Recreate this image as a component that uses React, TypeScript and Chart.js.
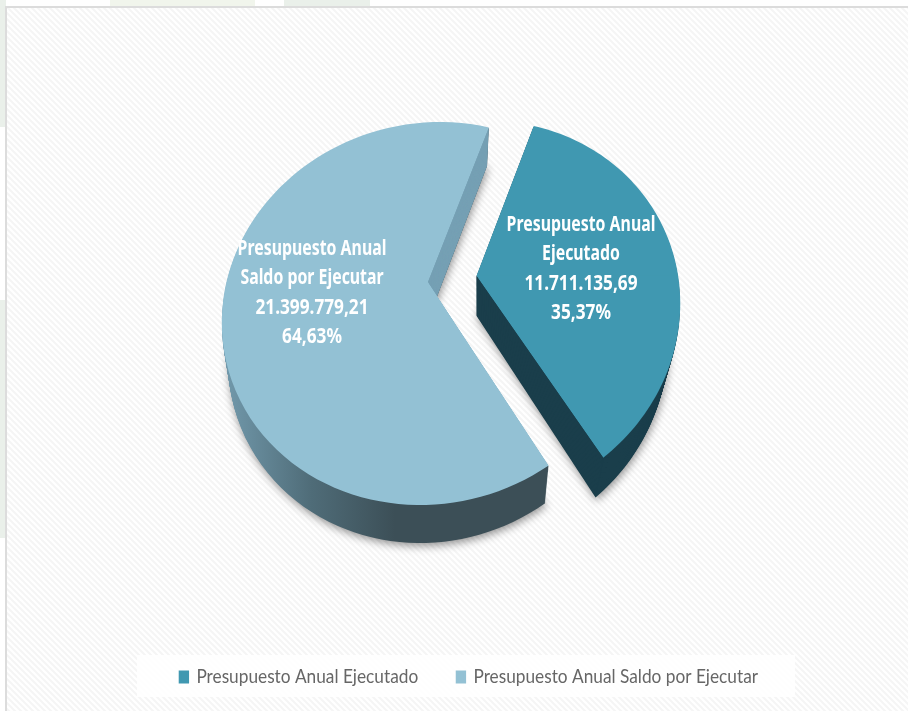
import React, { useEffect, useRef } from "react";
import { Chart, registerables } from "chart.js";

Chart.register(...registerables);

const categories = ["Presupuesto Anual Ejecutado", "Presupuesto Anual Saldo por Ejecutar"];
const values = [11711135.69, 21399779.21];
const percentLabels = ["35,37%", "64,63%"];
const labelLines = [
  ["Presupuesto Anual", "Ejecutado"],
  ["Presupuesto Anual", "Saldo por Ejecutar"],
];
const sliceColors = ["#4098B1", "#93C1D4"];

const RADIUS = 205;
const START = 17;
const APEX = { x: 428, y: 282 };
const EXPLODE = [49, 0];
// perspective of each slice: vertical squash above / below its apex, outline ellipse, wall
const SY_UP = [0.8, 0.775];
const SY_DOWN = [1.03, 1.09];
const OUTLINE = [
  { cx: 478, cy: 313, a: 202, b: 192 },
  { cx: 430, cy: 313.5, a: 208, b: 191.5 },
];
const SHEAR = -0.052;
const DEPTH = [40, 38];
const TAPER = [0.06, 0.03];
const LABEL_POS = [
  { x: 581, y: 225 },
  { x: 312, y: 249 },
];
const LINE_H = 29.4;
const SQUEEZE = 0.755;
const NUMBER_SQUEEZE = 0.82;
const LEGEND_SQUEEZE = 0.863;
const LEGEND_CENTER = { x: 469, y: 677 };

function fmt(v: number) {
  return v.toLocaleString("es-ES", { minimumFractionDigits: 2, maximumFractionDigits: 2 });
}

function apexOf(arc: any, i: number) {
  const mid = (arc.startAngle + arc.endAngle) / 2;
  const s = Math.sin(mid);
  return {
    x: APEX.x + EXPLODE[i] * Math.cos(mid),
    y: APEX.y + EXPLODE[i] * s * (s < 0 ? SY_UP[i] : SY_DOWN[i]),
  };
}

// Outline of one slice in page pixels: a ray from the apex for each angle of the arc, cut by the ellipse.
function slicePath(ctx: CanvasRenderingContext2D, arc: any, i: number, k: number) {
  const ap = apexOf(arc, i);
  const o = OUTLINE[i];
  const t = (TAPER[i] * k) / DEPTH[i];
  const a = o.a * (1 - t);
  const b = o.b;
  const ax = o.cx + (ap.x - o.cx) * (1 - t);
  const ay = ap.y + k;
  const cy = o.cy + k;
  ctx.beginPath();
  ctx.moveTo(ax, ay);
  const n = 90;
  for (let j = 0; j <= n; j++) {
    const th = arc.startAngle + ((arc.endAngle - arc.startAngle) * j) / n;
    const sn = Math.sin(th);
    const dx = Math.cos(th) * (1 - t);
    const dy = sn * (sn < 0 ? SY_UP[i] : SY_DOWN[i]);
    const u0 = ax - o.cx - SHEAR * (ay - cy);
    const v0 = ay - cy;
    const du = dx - SHEAR * dy;
    const A = (du * du) / (a * a) + (dy * dy) / (b * b);
    const B = (2 * u0 * du) / (a * a) + (2 * v0 * dy) / (b * b);
    const C = (u0 * u0) / (a * a) + (v0 * v0) / (b * b) - 1;
    const r = (-B + Math.sqrt(Math.max(B * B - 4 * A * C, 0))) / (2 * A);
    ctx.lineTo(ax + r * dx, ay + r * dy);
  }
  ctx.closePath();
}

function drawTopFace(ctx: CanvasRenderingContext2D, chart: any, arc: any, i: number) {
  const ap = apexOf(arc, i);
  const grow = 1.5;
  for (const part of [0, 1]) {
    const sy = (part === 0 ? SY_UP[i] : SY_DOWN[i]) * grow;
    ctx.save();
    slicePath(ctx, arc, i, 0);
    ctx.clip();
    ctx.beginPath();
    if (part === 0) ctx.rect(0, 0, chart.width, ap.y + 0.5);
    else ctx.rect(0, ap.y, chart.width, chart.height - ap.y);
    ctx.clip();
    ctx.setTransform(grow, 0, 0, sy, ap.x - arc.x * grow, ap.y - arc.y * sy);
    arc.draw(ctx);
    ctx.restore();
  }
}

const background = {
  id: "background",
  beforeDraw(chart: any) {
    const ctx: CanvasRenderingContext2D = chart.ctx;
    ctx.save();
    ctx.fillStyle = "#ffffff";
    ctx.fillRect(0, 0, chart.width, chart.height);
    ctx.fillStyle = "#F1F5EC";
    ctx.fillRect(110, 0, 145, 6);
    ctx.fillStyle = "#EAF0EA";
    ctx.fillRect(284, 0, 86, 6);
    ctx.fillRect(0, 0, 6, 127);
    ctx.fillRect(0, 300, 6, 238);

    const tile = document.createElement("canvas");
    tile.width = 6;
    tile.height = 6;
    const t = tile.getContext("2d")!;
    t.fillStyle = "#ffffff";
    t.fillRect(0, 0, 6, 6);
    t.strokeStyle = "#F5F5F5";
    t.lineWidth = 2;
    t.beginPath();
    t.moveTo(-1, -1);
    t.lineTo(7, 7);
    t.moveTo(-4, 2);
    t.lineTo(4, 10);
    t.moveTo(2, -4);
    t.lineTo(10, 4);
    t.stroke();
    ctx.fillStyle = ctx.createPattern(tile, "repeat")!;
    ctx.fillRect(7, 8, chart.width - 7, chart.height - 8);

    ctx.fillStyle = "#DCDCDC";
    ctx.fillRect(5, 6, chart.width - 5, 2);
    ctx.fillRect(5, 6, 2, chart.height - 6);

    ctx.fillStyle = "rgba(255,255,255,0.9)";
    ctx.fillRect(137, 655, 658, 42);
    ctx.restore();
  },
  afterLayout(chart: any) {
    const legend = chart.legend;
    if (!legend || legend.__wrapped) return;
    legend.__wrapped = true;
    const original = legend.draw;
    legend.draw = function (...args: any[]) {
      const ctx: CanvasRenderingContext2D = chart.ctx;
      const boxes = legend.legendHitBoxes;
      const first = boxes[0];
      const last = boxes[boxes.length - 1];
      ctx.save();
      ctx.translate(LEGEND_CENTER.x, LEGEND_CENTER.y);
      ctx.scale(LEGEND_SQUEEZE, 1);
      ctx.translate(-(first.left + last.left + last.width) / 2, -(first.top + first.height / 2));
      original.apply(legend, args);
      ctx.restore();
    };
  },
};

const pie3d = {
  id: "pie3d",
  beforeDatasetDraw(chart: any) {
    const ctx: CanvasRenderingContext2D = chart.ctx;
    const arcs = chart.getDatasetMeta(0).data;
    for (const i of [1, 0]) {
      const arc = arcs[i];
      for (let k = DEPTH[i]; k >= 1; k--) {
        ctx.save();
        slicePath(ctx, arc, i, k);
        if (k === DEPTH[i]) {
          ctx.shadowColor = "rgba(0,0,0,0.42)";
          ctx.shadowBlur = 8;
          ctx.shadowOffsetX = 1;
          ctx.shadowOffsetY = 3;
        }
        if (i === 0) {
          ctx.fillStyle = "#1A3E4B";
        } else {
          const g = ctx.createLinearGradient(228, 0, 395, 0);
          g.addColorStop(0, "#7097A9");
          g.addColorStop(0.5, "#4F6C78");
          g.addColorStop(1, "#3C4F57");
          ctx.fillStyle = g;
        }
        ctx.fill();
        ctx.restore();
      }
      if (i === 1) {
        // the cut face seen through the gap
        ctx.save();
        ctx.beginPath();
        ctx.rect(APEX.x, 0, chart.width, APEX.y + DEPTH[i]);
        ctx.clip();
        ctx.fillStyle = "#76A0B4";
        for (let k = DEPTH[i]; k >= 1; k--) {
          slicePath(ctx, arc, i, k);
          ctx.fill();
        }
        ctx.restore();
      }
      drawTopFace(ctx, chart, arc, i);
    }
    return false;
  },
  afterDatasetsDraw(chart: any) {
    const ctx: CanvasRenderingContext2D = chart.ctx;
    ctx.save();
    ctx.fillStyle = "#ffffff";
    ctx.textAlign = "center";
    ctx.textBaseline = "middle";
    ctx.font = 'bold 21px "Noto Sans"';
    categories.forEach((_, i) => {
      const lines = [...labelLines[i], fmt(values[i]), percentLabels[i]];
      lines.forEach((line, j) => {
        ctx.save();
        ctx.translate(LABEL_POS[i].x, LABEL_POS[i].y + j * LINE_H);
        ctx.scale(j < 2 ? SQUEEZE : NUMBER_SQUEEZE, 1);
        ctx.fillText(line, 0, 0);
        ctx.restore();
      });
    });
    ctx.restore();
  },
};

export default function App() {
  const ref = useRef<HTMLCanvasElement>(null);
  useEffect(() => {
    document.body.style.margin = "0";
    const chart = new Chart(ref.current!, {
      type: "pie",
      data: {
        labels: categories,
        datasets: [{ data: values, backgroundColor: sliceColors, borderWidth: 0 }],
      },
      options: {
        responsive: false,
        animation: false,
        rotation: START,
        radius: RADIUS,
        plugins: {
          tooltip: { enabled: false },
          legend: {
            position: "bottom",
            labels: {
              boxWidth: 9,
              boxHeight: 10,
              padding: 45,
              color: "#666666",
              font: { family: "Lato", size: 20 },
              generateLabels(c: any) {
                return (Chart as any).overrides.pie.plugins.legend.labels
                  .generateLabels(c)
                  .map((l: any) => ({ ...l, lineWidth: 3, strokeStyle: l.fillStyle }));
              },
            },
          },
        },
      },
      plugins: [background, pie3d],
    } as any);
    return () => chart.destroy();
  }, []);
  return <canvas ref={ref} width={908} height={711} style={{ display: "block" }} />;
}
